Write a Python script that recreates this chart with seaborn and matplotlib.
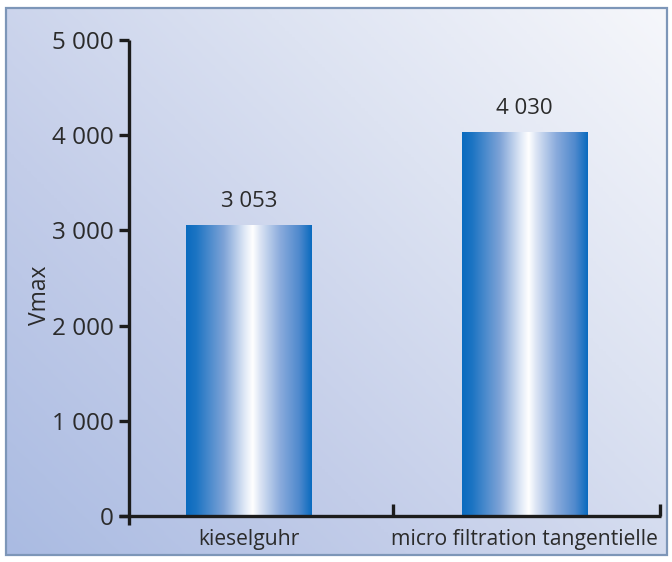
import numpy as np
import pandas as pd
import seaborn as sns
import matplotlib
matplotlib.use("Agg")
import matplotlib.pyplot as plt
from matplotlib.colors import LinearSegmentedColormap
from matplotlib.patches import Rectangle
from matplotlib.ticker import FuncFormatter

# Data
categories = ["kieselguhr", "micro filtration tangentielle"]
vmax_values = [3053, 4030]
y_ticks = [0, 1000, 2000, 3000, 4000, 5000]

sns.set_theme(style="white")
plt.rcParams["font.family"] = ["Open Sans", "DejaVu Sans"]

W, H = 672, 562
fig = plt.figure(figsize=(W / 100, H / 100), dpi=100)
fig.patch.set_facecolor("white")

# Framed background panel with a diagonal blue-to-white gradient
bg = fig.add_axes([0, 0, 1, 1])
bg.set_axis_off()
bg.set_xlim(0, W)
bg.set_ylim(H, 0)
fx0, fx1, fy0, fy1 = 6, 667, 8, 555
gx = np.linspace(0, 1, 200)
gy = np.linspace(0, 1, 200)
GX, GY = np.meshgrid(gx, gy)
t = np.clip((GX * 0.55 + (1 - GY) * 0.45), 0, 1)  # 0 at bottom-left, 1 at top-right
bg_cmap = LinearSegmentedColormap.from_list(
    "panel", ["#aabbe2", "#c3cde9", "#dde3f2", "#f6f7fb"])
bg.imshow(t, extent=(fx0, fx1, fy1, fy0), origin="upper", cmap=bg_cmap,
          aspect="auto", zorder=0, interpolation="bilinear")
bg.add_patch(Rectangle((fx0, fy0), fx1 - fx0, fy1 - fy0, fill=False,
                       edgecolor="#7d96b8", lw=1.6, zorder=1))
bg.set_xlim(0, W)
bg.set_ylim(H, 0)

# Main chart axes
ax_left, ax_right, ax_top, ax_bottom = 118.5, 661, 40, 525
ax = fig.add_axes([ax_left / W, (H - ax_bottom) / H,
                   (ax_right - ax_left) / W, (ax_bottom - ax_top) / H])
ax.patch.set_alpha(0)

df = pd.DataFrame({"method": categories, "Vmax": vmax_values})
sns.barplot(data=df, x="method", y="Vmax", ax=ax, width=0.457,
            color="#1a6fc0", saturation=1)

bar_cmap = LinearSegmentedColormap.from_list(
    "bar", [(0.0, "#0a6bbf"), (0.08, "#1c74c3"), (0.3, "#7ea3d7"),
            (0.47, "#e2eaf7"), (0.53, "#ffffff"), (0.59, "#dbe4f4"),
            (0.75, "#8aabdc"), (0.9, "#4f89cd"), (1.0, "#0a6bbf")])
grad = np.linspace(0, 1, 256).reshape(1, -1)

text_color = "#2b2b2b"
for patch, val in zip(ax.patches, vmax_values):
    x0, w, h = patch.get_x(), patch.get_width(), patch.get_height()
    patch.set_visible(False)
    ax.imshow(grad, extent=(x0, x0 + w, 0, h), aspect="auto", cmap=bar_cmap,
              zorder=2, interpolation="bilinear")
    ax.annotate(f"{val:,}".replace(",", " "), (x0 + w / 2, h),
                xytext=(0, 13), textcoords="offset points",
                ha="center", va="baseline", fontsize=16, color=text_color)

ax.set_xlim(-0.474, 1.495)
ax.set_ylim(-94.5, 5000)

for side in ["top", "right"]:
    ax.spines[side].set_visible(False)
axis_color = "#1c1c1c"
ax.spines["left"].set_position(("data", -0.436))
ax.spines["left"].set_bounds(-94.5, 5000)
ax.spines["bottom"].set_position(("data", 0))
ax.spines["bottom"].set_bounds(-0.474, 1.495)
for side in ["left", "bottom"]:
    ax.spines[side].set_color(axis_color)
    ax.spines[side].set_linewidth(2.4)
    ax.spines[side].set_capstyle("butt")

ax.set_yticks(y_ticks)
ax.yaxis.set_major_formatter(FuncFormatter(lambda v, p: f"{int(v):,}".replace(",", " ")))
ax.tick_params(axis="y", direction="out", length=7, width=2.4, pad=4,
               labelsize=17.5, colors=axis_color, labelcolor=text_color, left=True)

ax.set_xticks(range(len(categories)))
ax.set_xticklabels(categories)
ax.tick_params(axis="x", which="major", length=0, pad=9, labelsize=15.2,
               labelcolor=text_color, bottom=True)
ax.set_xticks([0.523, 1.49], minor=True)
ax.tick_params(axis="x", which="minor", direction="in", length=9, width=2.4,
               colors=axis_color, bottom=True)

ax.set_xlabel("")
ax.set_ylabel("Vmax", fontsize=16.5, color=text_color)
ax.yaxis.label.set_va("center")
ax.yaxis.set_label_coords((40 - ax_left) / (ax_right - ax_left),
                          (ax_bottom - 295) / (ax_bottom - ax_top))

fig.savefig("out.png", dpi=100)
